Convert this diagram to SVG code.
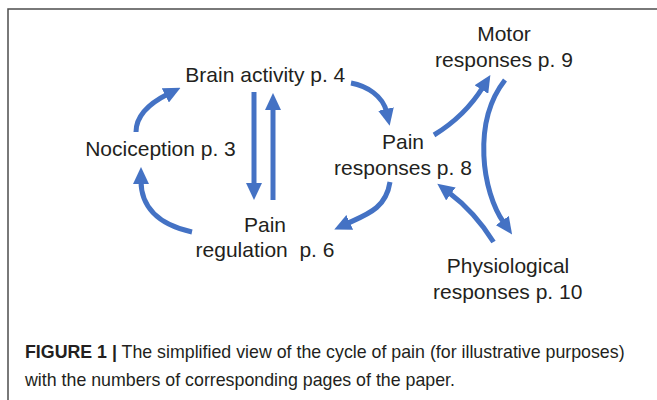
<svg xmlns="http://www.w3.org/2000/svg" width="657" height="400" viewBox="0 0 657 400">
  <style>
    .lbl { font-family: "Liberation Sans", Arial, sans-serif; font-size: 21px; fill: #231f20; text-anchor: middle; white-space: pre; }
    .cap { font-family: "Liberation Sans", Arial, sans-serif; font-size: 17.8px; fill: #231f20; }
    .arr { fill: none; stroke: #4472c4; stroke-width: 5; marker-end: url(#head); }
  </style>
  <defs>
    <marker id="head" viewBox="0 0 17 16" refX="3" refY="8" markerWidth="17" markerHeight="16" markerUnits="userSpaceOnUse" orient="auto">
      <path d="M0,0 L17,8 L0,16 Z" fill="#4472c4"/>
    </marker>
  </defs>
  <rect x="8" y="9" width="720" height="500" fill="#ffffff" stroke="#4d4d4d" stroke-width="1.5"/>

  <g id="connectors">
    <path class="arr" d="M254,92 L254,186"/>
    <path class="arr" d="M273,200 L273,107"/>
    <path class="arr" d="M136,132 C136,116 150,103 168,94"/>
    <path class="arr" d="M192,232 C156,224 141,205 141,181"/>
    <path class="arr" d="M351,83 C367,86 383,96 386.6,112"/>
    <path class="arr" d="M434,135 C452,124 470,108 483,87"/>
    <path class="arr" d="M505,80 C472,122 482,192 504,223"/>
    <path class="arr" d="M493.5,242 C483,225 467,206 448.5,192.2"/>
    <path class="arr" d="M390,182 C386,208 368,214 347,223.6"/>
  </g>

  <g id="node-motor">
    <text class="lbl" x="504" y="41">Motor</text>
    <text class="lbl" x="504" y="66.7">responses p. 9</text>
  </g>
  <g id="node-brain">
    <text class="lbl" x="265.3" y="82">Brain activity p. 4</text>
  </g>
  <g id="node-nociception">
    <text class="lbl" x="160.5" y="156">Nociception p. 3</text>
  </g>
  <g id="node-pain-responses">
    <text class="lbl" x="403" y="148.5">Pain</text>
    <text class="lbl" x="403" y="174.5">responses p. 8</text>
  </g>
  <g id="node-pain-regulation">
    <text class="lbl" x="265" y="231.5">Pain</text>
    <text class="lbl" x="265" y="257" xml:space="preserve">regulation  p. 6</text>
  </g>
  <g id="node-physiological">
    <text class="lbl" x="508" y="273">Physiological</text>
    <text class="lbl" x="507.7" y="299">responses p. 10</text>
  </g>

  <g id="caption">
    <text class="cap" x="25" y="358"><tspan font-weight="bold">FIGURE 1 |</tspan> The simplified view of the cycle of pain (for illustrative purposes)</text>
    <text class="cap" x="25" y="386">with the numbers of corresponding pages of the paper.</text>
  </g>
</svg>
